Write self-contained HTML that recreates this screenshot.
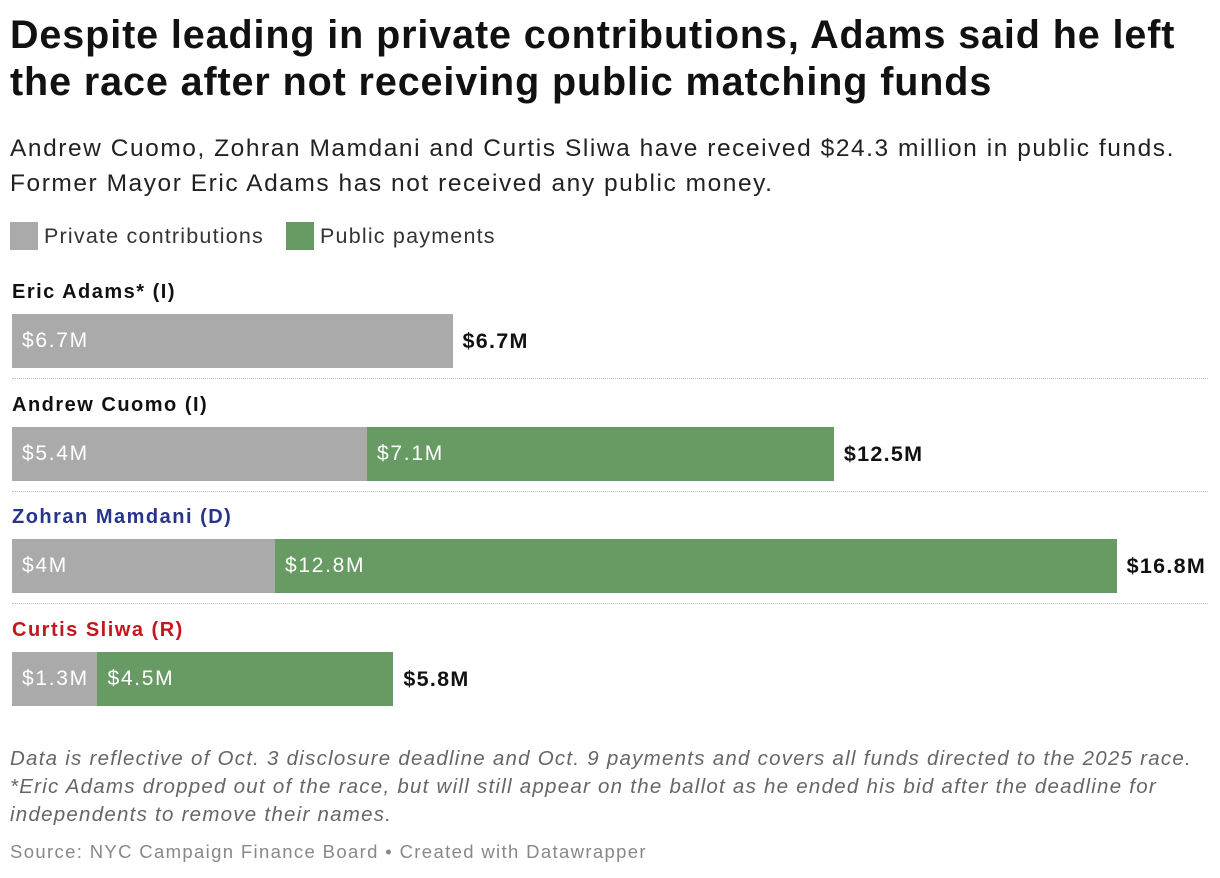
<!DOCTYPE html>
<html><head><meta charset="utf-8"><style>
body{margin:0;width:1220px;height:878px;background:#fff;font-family:"Liberation Sans",sans-serif;position:relative;overflow:hidden;color:#222}
.t{position:absolute;left:10px;top:12px;font-size:39.5px;font-weight:bold;line-height:47px;color:#111;letter-spacing:0.9px}
.s{position:absolute;left:10px;top:131px;font-size:24.5px;line-height:35px;color:#222;letter-spacing:1.55px;white-space:nowrap}
.lg{position:absolute;top:222px;font-size:21.5px;color:#333;display:flex;align-items:center;letter-spacing:1.2px}
.sw{width:28px;height:28px;margin-right:6px}
.nm{position:absolute;left:12px;font-size:20px;font-weight:bold;letter-spacing:1.5px}
.bar{position:absolute;height:54px}
.bl{position:absolute;color:#fff;font-size:21px;line-height:54px;padding-left:10px;box-sizing:border-box;white-space:nowrap;letter-spacing:1.7px}
.tot{position:absolute;font-size:21.5px;font-weight:bold;line-height:54px;color:#111;letter-spacing:1.3px}
.sep{position:absolute;left:12px;width:1196px;border-top:1px dotted #bbb}
.f{position:absolute;left:10px;top:745px;font-size:20.5px;font-style:italic;color:#666;line-height:28px;letter-spacing:1.25px;white-space:nowrap}
.src{position:absolute;left:10px;top:841px;font-size:18.5px;color:#888;letter-spacing:1.35px}
</style></head><body>
<div class="t">Despite leading in private contributions, Adams said he left<br>the race after not receiving public matching funds</div>
<div class="s">Andrew Cuomo, Zohran Mamdani and Curtis Sliwa have received $24.3 million in public funds.<br>Former Mayor Eric Adams has not received any public money.</div>
<div class="lg" style="left:10px"><div class="sw" style="background:#aaaaaa"></div>Private contributions</div>
<div class="lg" style="left:286px"><div class="sw" style="background:#679b63"></div>Public payments</div>
<div id="chart"></div>
<div class="f">Data is reflective of Oct. 3 disclosure deadline and Oct. 9 payments and covers all funds directed to the 2025 race.<br>*Eric Adams dropped out of the race, but will still appear on the ballot as he ended his bid after the deadline for<br>independents to remove their names.</div>
<div class="src">Source: NYC Campaign Finance Board • Created with Datawrapper</div>
<script>
const candidates=["Eric Adams* (I)","Andrew Cuomo (I)","Zohran Mamdani (D)","Curtis Sliwa (R)"];
const nameColors=["#111","#111","#27348b","#c4161c"];
const privateVals=[6.7,5.4,4.0,1.3];
const publicVals=[0,7.1,12.8,4.5];
const totals=[6.7,12.5,16.8,5.8];
const x0=12,scale=65.75;
const xs=v=>v*scale;
const c=document.getElementById('chart');
const fmt=v=>'$'+(Math.round(v*10)/10)+'M';
candidates.forEach((n,i)=>{
  const top=314+i*112.7;
  const nm=document.createElement('div');nm.className='nm';nm.textContent=n;nm.style.top=(top-33)+'px';nm.style.color=nameColors[i];
  
  
  c.appendChild(nm);
  const p=document.createElement('div');p.className='bar bl';p.style.background='#aaaaaa';
  p.style.left=x0+'px';p.style.top=top+'px';p.style.width=xs(privateVals[i])+'px';p.textContent=fmt(privateVals[i]);
  
  
  c.appendChild(p);
  if(publicVals[i]>0){
    const q=document.createElement('div');q.className='bar bl';q.style.background='#679b63';
    q.style.left=(x0+xs(privateVals[i]))+'px';q.style.top=top+'px';q.style.width=xs(publicVals[i])+'px';q.textContent=fmt(publicVals[i]);
    
    
    c.appendChild(q);
  }
  const t=document.createElement('div');t.className='tot';t.style.top=top+'px';
  t.style.left=(x0+xs(privateVals[i]+publicVals[i])+10)+'px';t.textContent=fmt(totals[i]);
  
  
  c.appendChild(t);
  if(i<candidates.length-1){
    const s=document.createElement('div');s.className='sep';s.style.top=(top+64)+'px';
    
    
    c.appendChild(s);
  }
});
</script>
</body></html>
